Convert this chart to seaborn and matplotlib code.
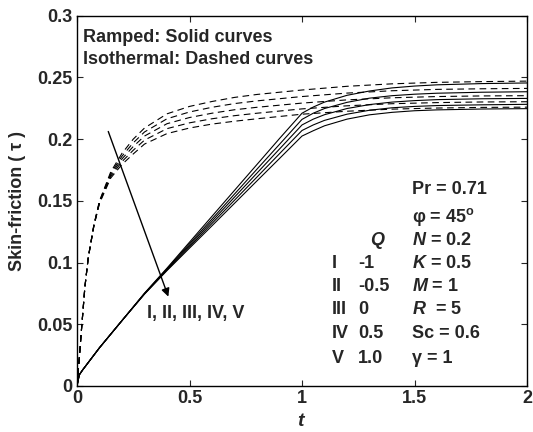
import matplotlib
matplotlib.use("Agg")
import matplotlib.pyplot as plt
import seaborn as sns
import pandas as pd

# ---------------- data ----------------
cases = ["I", "II", "III", "IV", "V"]
Q_values = ["-1", "-0.5", "0", "0.5", "1.0"]

t_ramped = [0, 0.01, 0.025, 0.05, 0.1, 0.15, 0.2, 0.3, 0.4, 0.5, 0.6, 0.7, 0.8, 0.9, 1.0,
            1.05, 1.1, 1.2, 1.3, 1.4, 1.5, 1.6, 1.8, 2.0]
ramped_I = [0, 0.009, 0.013, 0.019, 0.031, 0.042, 0.053, 0.0752, 0.0955, 0.1165, 0.1375, 0.1585,
            0.1795, 0.2005, 0.2210, 0.2260, 0.2300, 0.2355, 0.2390, 0.2415, 0.2430, 0.2440, 0.2450, 0.2455]
ramped_II = [0, 0.009, 0.013, 0.019, 0.031, 0.042, 0.053, 0.0750, 0.0950, 0.1152, 0.1353, 0.1555,
             0.1757, 0.1958, 0.2160, 0.2210, 0.2248, 0.2298, 0.2332, 0.2352, 0.2364, 0.2372, 0.2380, 0.2384]
ramped_III = [0, 0.009, 0.013, 0.019, 0.031, 0.042, 0.053, 0.0748, 0.0945, 0.1140, 0.1335, 0.1530,
              0.1725, 0.1920, 0.2115, 0.2162, 0.2198, 0.2248, 0.2280, 0.2300, 0.2312, 0.2320, 0.2327, 0.2330]
ramped_IV = [0, 0.009, 0.013, 0.019, 0.031, 0.042, 0.053, 0.0746, 0.0940, 0.1128, 0.1317, 0.1505,
             0.1693, 0.1882, 0.2070, 0.2115, 0.2152, 0.2202, 0.2234, 0.2254, 0.2265, 0.2272, 0.2278, 0.2282]
ramped_V = [0, 0.009, 0.013, 0.019, 0.031, 0.042, 0.053, 0.0744, 0.0935, 0.1117, 0.1298, 0.1480,
            0.1662, 0.1843, 0.2025, 0.2068, 0.2108, 0.2162, 0.2197, 0.2217, 0.2230, 0.2237, 0.2244, 0.2247]

t_iso = [0, 0.005, 0.01, 0.02, 0.035, 0.05, 0.075, 0.1, 0.15, 0.2, 0.25, 0.3, 0.4, 0.5, 0.6, 0.7,
         0.8, 1.0, 1.2, 1.4, 1.6, 1.8, 2.0]
iso_I = [0, 0.011, 0.022, 0.046, 0.080, 0.104, 0.1305, 0.150, 0.1735, 0.1885, 0.2000, 0.2090, 0.2205,
         0.2265, 0.2305, 0.2338, 0.2362, 0.2398, 0.2428, 0.2448, 0.2460, 0.2466, 0.2470]
iso_II = [0, 0.011, 0.022, 0.046, 0.080, 0.104, 0.1302, 0.1495, 0.1722, 0.1862, 0.1970, 0.2058, 0.2165,
          0.2220, 0.2258, 0.2288, 0.2310, 0.2345, 0.2373, 0.2392, 0.2403, 0.2408, 0.2411]
iso_III = [0, 0.011, 0.022, 0.046, 0.080, 0.104, 0.1300, 0.1490, 0.1710, 0.1840, 0.1940, 0.2025, 0.2125,
           0.2175, 0.2210, 0.2238, 0.2258, 0.2292, 0.2318, 0.2335, 0.2345, 0.2350, 0.2352]
iso_IV = [0, 0.011, 0.022, 0.046, 0.080, 0.104, 0.1298, 0.1485, 0.1698, 0.1818, 0.1910, 0.1992, 0.2085,
          0.2132, 0.2165, 0.2190, 0.2210, 0.2245, 0.2270, 0.2287, 0.2296, 0.2301, 0.2303]
iso_V = [0, 0.011, 0.022, 0.046, 0.080, 0.104, 0.1295, 0.1480, 0.1685, 0.1795, 0.1880, 0.1960, 0.2045,
         0.2090, 0.2122, 0.2145, 0.2165, 0.2202, 0.2226, 0.2243, 0.2252, 0.2257, 0.2259]

x_ticks = [0, 0.5, 1, 1.5, 2]
x_tick_labels = ["0", "0.5", "1", "1.5", "2"]
y_ticks = [0, 0.05, 0.1, 0.15, 0.2, 0.25, 0.3]
y_tick_labels = ["0", "0.05", "0.1", "0.15", "0.2", "0.25", "0.3"]

params = ["Pr = 0.71", "φ = 45$^{\\mathrm{o}}$", "$N$ = 0.2", "$K$ = 0.5", "$M$ = 1",
          "$R$  = 5", "Sc = 0.6", "γ = 1"]

# ---------------- build long-form table ----------------
ramped_sets = [ramped_I, ramped_II, ramped_III, ramped_IV, ramped_V]
iso_sets = [iso_I, iso_II, iso_III, iso_IV, iso_V]
rows = []
for c, vals in zip(cases, ramped_sets):
    for t, v in zip(t_ramped, vals):
        rows.append({"t": t, "tau": v, "case": c, "kind": "Ramped"})
for c, vals in zip(cases, iso_sets):
    for t, v in zip(t_iso, vals):
        rows.append({"t": t, "tau": v, "case": c, "kind": "Isothermal"})
df = pd.DataFrame(rows)

# ---------------- style ----------------
sns.set_style("ticks")
plt.rcParams["font.family"] = ["Liberation Sans", "DejaVu Sans"]
plt.rcParams["font.weight"] = "bold"
plt.rcParams["mathtext.fontset"] = "custom"
plt.rcParams["mathtext.rm"] = "Liberation Sans:bold"
plt.rcParams["mathtext.it"] = "Liberation Sans:italic:bold"
plt.rcParams["mathtext.bf"] = "Liberation Sans:bold"

FS = 13
fig = plt.figure(figsize=(5.33, 4.32), dpi=100)
ax = fig.add_axes([77 / 533, 1 - 386 / 432, 450 / 533, (386 - 15.7) / 432])

for kind, ls in [("Ramped", "-"), ("Isothermal", (0, (6, 4)))]:
    sub = df[df["kind"] == kind]
    for c in cases:
        s = sub[sub["case"] == c]
        sns.lineplot(data=s, x="t", y="tau", ax=ax, color="black", lw=0.8,
                     linestyle=ls, estimator=None, sort=False, legend=False)

ax.set_xlim(0, 2)
ax.set_ylim(0, 0.3)
ax.set_xticks(x_ticks)
ax.set_xticklabels(x_tick_labels, fontsize=FS, fontweight="bold")
ax.set_yticks(y_ticks)
ax.set_yticklabels(y_tick_labels, fontsize=FS, fontweight="bold")
ax.tick_params(direction="in", length=4, width=0.8, top=True, right=True, pad=3)
for sp in ax.spines.values():
    sp.set_visible(True)
    sp.set_linewidth(1.0)
    sp.set_color("black")

ax.set_xlabel("$t$", fontsize=FS + 1, labelpad=4)
ax.set_ylabel("Skin-friction ( τ )", fontsize=FS, fontweight="bold", labelpad=8)

# header text
ax.text(0.028, 0.282, "Ramped: Solid curves", fontsize=FS, fontweight="bold", va="center", ha="left")
ax.text(0.028, 0.2644, "Isothermal: Dashed curves", fontsize=FS, fontweight="bold", va="center", ha="left")

# arrow and case labels
ax.annotate("", xy=(0.406, 0.0724), xytext=(0.139, 0.2062),
            arrowprops=dict(arrowstyle="-|>", color="black", lw=1.0, mutation_scale=12,
                            shrinkA=0, shrinkB=0))
ax.text(0.31, 0.059, "I, II, III, IV, V", fontsize=FS, fontweight="bold", va="center", ha="left")

# parameter block
param_y = [0.159, 0.1373, 0.1176, 0.0995, 0.0805, 0.0616, 0.0427, 0.0225]
for y, s in zip(param_y, params):
    ax.text(1.487, y, s, fontsize=FS, fontweight="bold", va="center", ha="left")

ax.text(1.302, 0.1176, "$Q$", fontsize=FS, fontweight="bold", va="center", ha="left")
case_y = [0.0995, 0.0805, 0.0616, 0.0427, 0.0225]
for y, c, q in zip(case_y, cases, Q_values):
    ax.text(1.133, y, c, fontsize=FS, fontweight="bold", va="center", ha="left")
    ax.text(1.249, y, q, fontsize=FS, fontweight="bold", va="center", ha="left")

fig.savefig("out.png", dpi=100)
